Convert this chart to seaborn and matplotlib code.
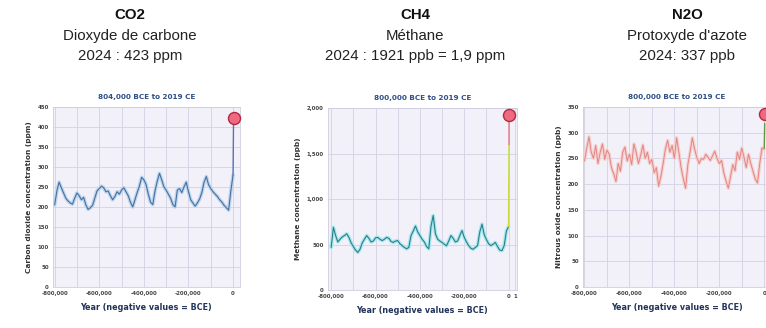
import numpy as np
import pandas as pd
import matplotlib.pyplot as plt
import seaborn as sns

# sampling grid of the ice-core series (every 10,000 years)
years = list(range(-800000, 1, 10000))

co2 = [205, 240, 262, 248, 235, 222, 215, 210, 207, 222, 235, 228, 218, 224, 205, 194, 198,
       204, 222, 240, 246, 252, 248, 238, 240, 228, 218, 226, 238, 232, 242, 248, 238, 228,
       212, 200, 218, 236, 252, 274, 268, 256, 232, 212, 206, 240, 264, 284, 268, 250, 242,
       232, 222, 206, 200, 242, 246, 236, 250, 262, 238, 218, 210, 202, 210, 220, 236, 262,
       276, 256, 246, 238, 232, 226, 218, 212, 204, 198, 192, 240, 280]

ch4 = [470, 690, 600, 530, 560, 585, 600, 620, 580, 520, 480, 440, 415, 450, 520, 560, 600,
       570, 530, 540, 575, 580, 560, 545, 560, 580, 570, 535, 525, 540, 545, 510, 490, 470,
       455, 470, 600, 650, 705, 640, 600, 560, 530, 480, 455, 700, 820, 620, 560, 540, 525,
       505, 488, 540, 600, 570, 530, 540, 600, 655, 580, 530, 490, 460, 450, 470, 490, 640,
       725, 610, 555, 510, 490, 505, 525, 480, 440, 435, 490, 650, 700]

n2o = [245, 270, 292, 262, 250, 275, 240, 262, 278, 248, 266, 258, 232, 220, 205, 240, 225,
       262, 272, 245, 258, 238, 278, 262, 240, 256, 276, 250, 262, 240, 248, 222, 232, 196,
       215, 240, 268, 285, 262, 275, 250, 290, 262, 232, 210, 192, 238, 262, 290, 268, 252,
       240, 250, 248, 258, 252, 246, 255, 264, 250, 240, 246, 222, 206, 192, 215, 238, 226,
       262, 248, 270, 252, 232, 258, 240, 225, 210, 202, 240, 270, 268]

# modern rise (year 0 -> 2019) and the 2019 marker
co2_rise_x, co2_rise_y = [0, 2019], [280, 410]
ch4_rise_x, ch4_rise_y = [0, 1900], [700, 1600]
ch4_top_x, ch4_top_y = [1900, 2019], [1600, 1880]
n2o_rise_x, n2o_rise_y = [0, 2019], [270, 318]
dots = {"co2": 423, "ch4": 1921, "n2o": 336}

headers = [("CO2", "Dioxyde de carbone", "2024 : 423 ppm"),
           ("CH4", "Méthane", "2024 : 1921 ppb = 1,9 ppm"),
           ("N2O", "Protoxyde d'azote", "2024: 337 ppb")]
sub_titles = ["804,000 BCE to 2019 CE", "800,000 BCE to 2019 CE", "800,000 BCE to 2019 CE"]
y_labels = ["Carbon dioxide concentration (ppm)", "Methane concentration (ppb)",
            "Nitrous oxide concentration (ppb)"]
x_ticks = [-800000, -600000, -400000, -200000, 0]
x_tick_labels = ["-800,000", "-600,000", "-400,000", "-200,000", "0"]

sns.set_style("white")
plt.rcParams['font.family'] = ['DejaVu Sans']

fig = plt.figure(figsize=(7.66, 3.28), dpi=100)

# axes positions in figure fractions
ax1 = fig.add_axes([0.069, 0.125, 0.244, 0.549])
ax2 = fig.add_axes([0.428, 0.115, 0.247, 0.556])
ax3 = fig.add_axes([0.761, 0.125, 0.2455, 0.549])

bg = '#f2f0f8'
grid_c = '#d4d2e2'

def style_axis(ax, title, ylabel, ylim, ystep, xlim):
    ax.set_facecolor(bg)
    ax.set_xlim(*xlim)
    ax.set_ylim(*ylim)
    ax.set_xticks(range(-800000, 1, 100000), minor=True)
    ax.set_yticks(np.arange(ylim[0], ylim[1] + 1, ystep))
    ax.grid(True, which='both', color=grid_c, lw=0.6)
    ax.set_axisbelow(True)
    ax.set_title(title, fontsize=5.2, fontweight='bold', color='#2f4f86', pad=6)
    ax.set_ylabel(ylabel, fontsize=5.3, fontweight='bold', color='#333333', labelpad=4)
    ax.set_xlabel("Year (negative values = BCE)", fontsize=5.8, fontweight='bold',
                  color='#22335a', labelpad=5)
    ax.tick_params(length=0, labelsize=3.9, colors='#444444', pad=3)
    for lab in ax.get_xticklabels() + ax.get_yticklabels():
        lab.set_fontweight('bold')
    for sp in ax.spines.values():
        sp.set_color('#cfcde0')
        sp.set_linewidth(0.6)

# CO2
sns.lineplot(x=years, y=co2, ax=ax1, color='#bcd4ee', lw=2.6)
sns.lineplot(x=years, y=co2, ax=ax1, color='#46719f', lw=0.8)
sns.lineplot(x=co2_rise_x, y=co2_rise_y, ax=ax1, color='#5a74b0', lw=1.0)
ax1.scatter([2019], [dots["co2"]], s=75, color='#ee6a80', edgecolor='#b5283f', lw=1.0,
            zorder=5, clip_on=False)
style_axis(ax1, sub_titles[0], y_labels[0], (0, 450), 50, (-808000, 30000))
ax1.set_xticks(x_ticks)
ax1.set_xticklabels(x_tick_labels)

# CH4
sns.lineplot(x=years, y=ch4, ax=ax2, color='#a6e8ee', lw=2.6)
sns.lineplot(x=years, y=ch4, ax=ax2, color='#2d7d89', lw=0.8)
sns.lineplot(x=ch4_rise_x, y=ch4_rise_y, ax=ax2, color='#c8dc3c', lw=1.1)
sns.lineplot(x=ch4_top_x, y=ch4_top_y, ax=ax2, color='#e87a8a', lw=1.1)
ax2.scatter([2019], [dots["ch4"]], s=75, color='#ee6a80', edgecolor='#b5283f', lw=1.0,
            zorder=5, clip_on=False)
style_axis(ax2, sub_titles[1], y_labels[1], (0, 2000), 500, (-815000, 38000))
ax2.set_xticks(x_ticks + [30000])
ax2.set_xticklabels(x_tick_labels + ["1"])
ax2.set_yticks([0, 500, 1000, 1500, 2000])
ax2.set_yticklabels(["0", "500", "1,000", "1,500", "2,000"])
for lab in ax2.get_xticklabels() + ax2.get_yticklabels():
    lab.set_fontweight('bold')

# N2O
sns.lineplot(x=years, y=n2o, ax=ax3, color='#f6d0ce', lw=2.4)
sns.lineplot(x=years, y=n2o, ax=ax3, color='#e28684', lw=0.7)
sns.lineplot(x=n2o_rise_x, y=n2o_rise_y, ax=ax3, color='#5c9a4a', lw=1.0)
ax3.scatter([2019], [dots["n2o"]], s=75, color='#ee6a80', edgecolor='#b5283f', lw=1.0,
            zorder=5, clip_on=False)
style_axis(ax3, sub_titles[2], y_labels[2], (0, 350), 50, (-807000, 30000))
ax3.set_xticks(x_ticks)
ax3.set_xticklabels(x_tick_labels)
for lab in ax3.get_xticklabels():
    lab.set_fontweight('bold')

# headers above each chart
centers = [130 / 766, 415 / 766, 687 / 766]
for cx, (gas, name, value) in zip(centers, headers):
    fig.text(cx, 1 - 15 / 328, gas, ha='center', va='center', fontsize=10.8,
             fontweight='bold', family='Liberation Sans', color='#111111')
    fig.text(cx, 1 - 36 / 328, name, ha='center', va='center', fontsize=10.8,
             family='Liberation Sans', color='#222222')
    fig.text(cx, 1 - 56 / 328, value, ha='center', va='center', fontsize=10.8,
             family='Liberation Sans', color='#222222')

fig.savefig("out.png", dpi=100)
